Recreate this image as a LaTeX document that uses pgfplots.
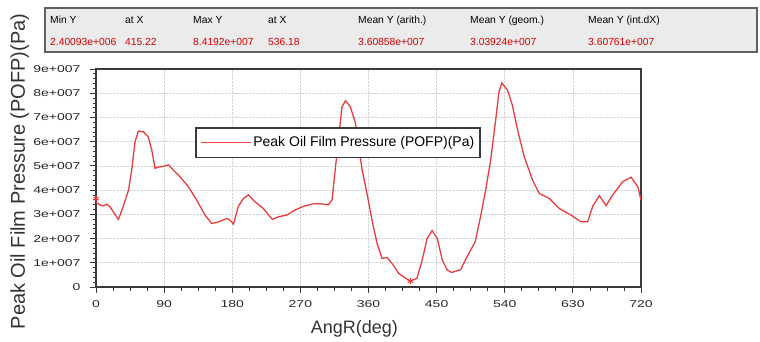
\documentclass[border=0pt]{standalone}
\usepackage{pgfplots}
\pgfplotsset{compat=1.18}
\usepackage{fontspec}
\setmainfont{Liberation Sans}
\newfontfamily\tickfont[FakeStretch=1.4]{Liberation Sans}
\definecolor{curve}{HTML}{E83C3E}
\definecolor{gridc}{HTML}{D4D4D4}
\definecolor{boxfill}{HTML}{EBEBEB}
\definecolor{axc}{HTML}{3A3A3A}
\begin{document}
\begin{tikzpicture}[x=1pt,y=1pt]
\useasboundingbox (0,0) rectangle (760,341);
\begin{axis}[
  at={(96pt,54pt)}, anchor=south west,
  scale only axis, width=545pt, height=218pt,
  xmin=0, xmax=720, ymin=0, ymax=9,
  xtick={0,90,...,720},
  ytick={0,1,...,9},
  yticklabels={0,1e+007,2e+007,3e+007,4e+007,5e+007,6e+007,7e+007,8e+007,9e+007},
  minor x tick num=3, minor y tick num=4,
  xtick pos=bottom, ytick pos=left,
  tick align=outside,
  major tick length=6pt, minor tick length=3.5pt,
  every tick/.style={axc, line width=0.8pt},
  axis line style={axc, line width=1.3pt},
  grid=major,
  major grid style={gridc, densely dotted, line width=0.7pt},
  tick label style={font=\tickfont\fontsize{10}{12}\selectfont, text=black!85},
  /pgf/number format/assume math mode=true,
  xticklabel style={yshift=-4pt},
  yticklabel style={xshift=-6pt},
  xlabel={AngR(deg)},
  xlabel style={font=\fontsize{18}{20}\selectfont, text=black!80, at={(axis description cs:0.474,-0.19)}, anchor=center},
  ylabel={Peak Oil Film Pressure (POFP)(Pa)},
  ylabel style={font=\fontsize{20}{22}\selectfont, text=black!80, at={(axis description cs:-0.14,0.53)}, anchor=center},
  legend style={at={(axis description cs:0.1817,0.734)}, anchor=north west,
    draw=axc, line width=1.6pt, fill=white, font=\fontsize{14}{15}\selectfont,
    inner xsep=4pt, inner ysep=7pt, cells={anchor=west}},
  legend image code/.code={\draw[curve, line width=1.5pt] (0pt,0pt) -- (50pt,0pt);},
]
\addplot[curve, line width=1.3pt] coordinates {
(0,3.5) (2,3.45) (5,3.39) (10,3.35) (14,3.42) (18,3.33) (24,3.05) (29.6,2.79)
(36,3.33) (43,4.0) (47,4.8) (51.6,6.0) (56,6.44) (62.6,6.41) (69,6.2) (73.7,5.65)
(78,4.9) (82.5,4.95) (87,4.97) (95.7,5.04) (102,4.83) (111,4.55) (122,4.14)
(133,3.59) (144,2.97) (153,2.62) (162,2.69) (173,2.83) (177,2.76) (181.7,2.6)
(188,3.33) (195,3.66) (201.6,3.8) (210,3.52) (221,3.24) (233,2.79) (241,2.9)
(252,2.97) (263,3.18) (274,3.33) (287.6,3.44) (296,3.44) (307,3.39) (311.8,3.59)
(316,4.83) (320.7,6.2) (325,7.44) (329.6,7.69) (336,7.44) (342.8,6.76) (347,5.79)
(351.6,4.83) (358,3.86) (364.6,2.77) (371.3,1.80) (377.9,1.18) (384.5,1.22)
(391,0.98) (400,0.56) (411,0.32) (415.2,0.24) (424,0.36) (431,1.12) (437.5,2.01)
(444,2.33) (450.8,2.01) (457.4,1.12) (464,0.70) (470,0.6) (482,0.72) (488,1.12)
(501,1.87) (508,2.9) (514.8,4.0) (521.4,5.24) (528,6.89) (532.4,8.06) (536.2,8.42)
(543.6,8.13) (550,7.51) (557,6.48) (565.7,5.38) (576.8,4.41) (585.6,3.86)
(598.8,3.66) (612,3.24) (627.6,2.97) (640.8,2.69) (649.6,2.69) (656.2,3.33)
(665,3.77) (673.8,3.36) (682.6,3.8) (695.9,4.35) (706.9,4.53) (715.8,4.14) (720,3.59)
};
\addlegendentry{Peak Oil Film Pressure (POFP)(Pa)}
\addplot[forget plot, only marks, mark=asterisk, mark size=3pt, curve, line width=1pt] coordinates {(0,3.65) (415.22,0.24)};
\end{axis}
% statistics box
\draw[fill=boxfill, draw=axc!80, line width=1.2pt] (45,289) rectangle (757,333);
\begin{scope}[every node/.style={anchor=base west, inner sep=0pt, font=\fontsize{10.3}{12}\selectfont}]
\node at (50,317) {Min Y};
\node at (125,317) {at X};
\node at (193,317) {Max Y};
\node at (268,317) {at X};
\node at (358,317) {Mean Y (arith.)};
\node at (470,317) {Mean Y (geom.)};
\node at (588,317) {Mean Y (int.dX)};
\node[text=red!85!black] at (50,296) {2.40093e+006};
\node[text=red!85!black] at (125,296) {415.22};
\node[text=red!85!black] at (193,296) {8.4192e+007};
\node[text=red!85!black] at (268,296) {536.18};
\node[text=red!85!black] at (358,296) {3.60858e+007};
\node[text=red!85!black] at (470,296) {3.03924e+007};
\node[text=red!85!black] at (588,296) {3.60761e+007};
\end{scope}
\end{tikzpicture}
\end{document}
